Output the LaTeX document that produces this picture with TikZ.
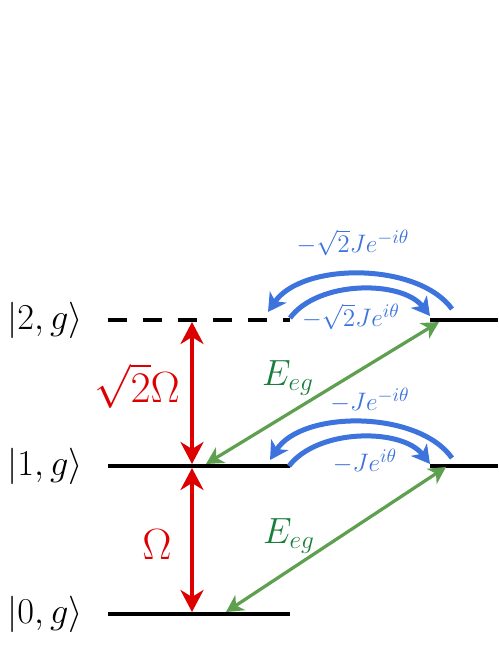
\documentclass[tikz,border=0pt]{standalone}
\usepackage{amsmath,amssymb}
\usepackage{xcolor}
\usepackage{tikz}
\usetikzlibrary{arrows.meta,positioning}
\definecolor{rabired}{RGB}{220,0,0}
\definecolor{coupgreen}{RGB}{95,160,80}
\definecolor{labgreen}{RGB}{25,125,60}
\definecolor{hopblue}{RGB}{60,115,220}

\begin{document}
\begin{tikzpicture}[x=0.02cm,y=-0.02cm,
level/.style={line width=0.095cm},
rabi/.style={{Stealth[length=0.44cm,width=0.46cm,inset=0.14cm]}-{Stealth[length=0.44cm,width=0.46cm,inset=0.14cm]},
draw=rabired,line width=0.085cm},
coup/.style={{Stealth[length=0.34cm,width=0.36cm,inset=0.1cm]}-{Stealth[length=0.34cm,width=0.36cm,inset=0.1cm]},
draw=coupgreen,line width=0.065cm},
hop/.style={-{Stealth[length=0.36cm,width=0.4cm,inset=0.1cm]},draw=hopblue,line width=0.1cm},
ket/.style={font=\fontsize{21}{25}\selectfont},
rlab/.style={text=rabired,font=\fontsize{23}{27}\selectfont},
glab/.style={text=labgreen,font=\fontsize{22}{26}\selectfont},
blab/.style={text=hopblue,font=\fontsize{15.5}{18}\selectfont,inner sep=1pt}]
\useasboundingbox (0,0) rectangle (498,645);
\coordinate (L2a) at (108,320); \coordinate (L2b) at (290,320);
\coordinate (R2a) at (430,320); \coordinate (R2b) at (498,320);
\coordinate (L1a) at (108,466); \coordinate (L1b) at (290,466);
\coordinate (R1a) at (430,466); \coordinate (R1b) at (498,466);
\coordinate (L0a) at (108,614); \coordinate (L0b) at (290,614);
\draw[level,dash pattern=on 0.38cm off 0.32cm] (L2a)--(L2b);
\draw[level] (R2a)--(R2b); \draw[level] (L1a)--(L1b);
\draw[level] (R1a)--(R1b); \draw[level] (L0a)--(L0b);
\node[ket] (k2) at (45,320) {$\left|2,g\right\rangle$};
\node[ket] (k1) at (45,466) {$\left|1,g\right\rangle$};
\node[ket] (k0) at (45,614) {$\left|0,g\right\rangle$};
\coordinate (m2) at (192,322); \coordinate (m1u) at (192,464);
\coordinate (m1d) at (192,468); \coordinate (m0) at (192,612);
\draw[rabi] (m2)--(m1u); \draw[rabi] (m1d)--(m0);
\node[rlab] (om2) at (137,386) {$\sqrt{2}\Omega$};
\node[rlab] (om1) at (157,545) {$\Omega$};
\coordinate (g1a) at (206,464); \coordinate (g1b) at (439,322);
\coordinate (g0a) at (226,612); \coordinate (g0b) at (446,467);
\draw[coup] (g1a)--(g1b); \draw[coup] (g0a)--(g0b);
\node[glab] (e1) at (288,378) {$E_{eg}$};
\node[glab] (e0) at (289,536) {$E_{eg}$};
\coordinate (h2o) at (452,309); \coordinate (h2l) at (268,312);
\coordinate (h2i) at (290,318); \coordinate (h2r) at (430,316);
\coordinate (h1o) at (452,458); \coordinate (h1l) at (270,460);
\coordinate (h1i) at (289,466); \coordinate (h1r) at (430,464);
\draw[hop] (h2o) .. controls (418,262) and (302,262) .. (h2l);
\draw[hop] (h2i) .. controls (318,280) and (402,280) .. (h2r);
\draw[hop] (h1o) .. controls (418,410) and (302,410) .. (h1l);
\draw[hop] (h1i) .. controls (318,428) and (402,428) .. (h1r);
\node[blab] (b2u) at (353,243) {$-\sqrt{2}Je^{-i\theta}$};
\node[blab] (b2d) at (351,317) {$-\sqrt{2}Je^{i\theta}$};
\node[blab] (b1u) at (370,400) {$-Je^{-i\theta}$};
\node[blab] (b1d) at (365,461) {$-Je^{i\theta}$};
\end{tikzpicture}
\end{document}
